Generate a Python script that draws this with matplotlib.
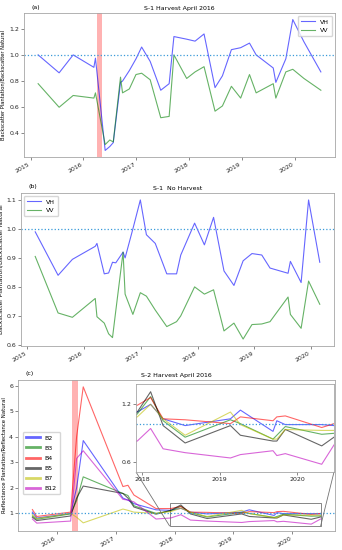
import matplotlib
matplotlib.use("Agg")
import matplotlib.pyplot as plt
import matplotlib.dates as mdates
import numpy as np
import pandas as pd
from mpl_toolkits.axes_grid1.inset_locator import mark_inset

# ---------------- data ----------------
dates_a = ["2015-02-22", "2015-07-17", "2015-10-22", "2016-03-13", "2016-03-24",
           "2016-05-30", "2016-07-01", "2016-07-25", "2016-09-13", "2016-09-27",
           "2016-11-13", "2016-12-29", "2017-02-06", "2017-04-06", "2017-06-18",
           "2017-08-15", "2017-09-17", "2017-12-14", "2018-02-10", "2018-04-13",
           "2018-06-28", "2018-08-18", "2018-10-19", "2018-12-22", "2019-02-21",
           "2019-04-08", "2019-08-04", "2019-08-22", "2019-10-30", "2019-12-17",
           "2020-03-03", "2020-06-28"]
vh_a = [1.0, 0.863, 1.0, 0.905, 0.975, 0.27, 0.30, 0.33, 0.79, 0.80,
        0.88, 0.97, 1.06, 0.95, 0.73, 0.78, 1.14, 1.12, 1.105, 1.16,
        0.75, 0.84, 1.04, 1.055, 1.09, 1.0, 0.90, 0.79, 0.97, 1.27,
        1.10, 0.87]
vv_a = [0.78, 0.60, 0.69, 0.67, 0.71, 0.315, 0.35, 0.335, 0.83, 0.71,
        0.74, 0.85, 0.86, 0.81, 0.52, 0.53, 1.0, 0.82, 0.87, 0.91,
        0.57, 0.61, 0.76, 0.67, 0.85, 0.71, 0.78, 0.67, 0.87, 0.89,
        0.82, 0.73]

dates_b = ["2015-02-22", "2015-07-19", "2015-10-19", "2016-03-14", "2016-03-25",
           "2016-05-11", "2016-06-08", "2016-07-03", "2016-07-24", "2016-09-09",
           "2016-09-22", "2016-11-11", "2016-12-29", "2017-02-06", "2017-04-04",
           "2017-06-17", "2017-08-19", "2017-09-15", "2017-12-13", "2018-02-14",
           "2018-04-14", "2018-06-20", "2018-08-23", "2018-10-21", "2018-12-17",
           "2019-02-18", "2019-04-12", "2019-08-06", "2019-08-21", "2019-10-29",
           "2019-12-16", "2020-02-26"]
vh_b = [0.99, 0.84, 0.895, 0.94, 0.95, 0.845, 0.848, 0.885, 0.883, 0.92,
        0.90, 1.0, 1.10, 0.98, 0.95, 0.845, 0.845, 0.91, 1.02, 0.945,
        1.04, 0.855, 0.805, 0.89, 0.915, 0.91, 0.865, 0.847, 0.888, 0.815,
        1.10, 0.885]
vv_b = [0.905, 0.71, 0.695, 0.76, 0.697, 0.675, 0.638, 0.625, 0.717, 0.92,
        0.775, 0.705, 0.78, 0.768, 0.72, 0.663, 0.68, 0.70, 0.80, 0.775,
        0.79, 0.648, 0.675, 0.62, 0.67, 0.672, 0.68, 0.765, 0.705, 0.657,
        0.82, 0.74]

dates_c = ["2015-08-04", "2015-08-31", "2016-03-28", "2016-05-04", "2016-06-14",
           "2017-02-15", "2017-03-18", "2017-04-24", "2017-09-08", "2017-12-08",
           "2018-02-09", "2018-04-09", "2018-07-22", "2019-02-21", "2019-04-09",
           "2019-09-10", "2019-09-28", "2019-11-07", "2020-04-27", "2020-06-24"]
bands = ["B2", "B3", "B4", "B5", "B7", "B12"]
b2 = [1.05, 0.82, 1.0, 2.0, 3.85, 1.6, 1.52, 1.38, 1.14, 1.12,
      1.2, 1.05, 0.98, 1.05, 1.14, 0.92, 1.03, 0.99, 0.99, 0.98]
b3 = [0.9, 0.77, 0.98, 1.5, 2.43, 1.78, 1.7, 1.3, 1.0, 1.1,
      1.28, 1.03, 0.86, 1.04, 1.0, 0.84, 0.88, 0.97, 0.89, 0.9]
b4 = [1.15, 0.88, 1.05, 4.0, 5.95, 2.05, 2.1, 1.72, 1.19, 1.19,
      1.27, 1.05, 1.04, 1.0, 1.07, 1.03, 1.07, 1.08, 0.96, 1.0]
b5 = [0.85, 0.72, 0.9, 1.6, 2.07, 1.78, 1.6, 1.25, 0.97, 1.12,
      1.33, 0.98, 0.8, 0.98, 0.88, 0.82, 0.82, 0.94, 0.77, 0.86]
b7 = [0.95, 0.8, 1.0, 0.85, 0.63, 1.17, 1.12, 1.05, 1.0, 1.07,
      1.2, 1.05, 0.88, 1.12, 0.99, 0.84, 0.84, 0.94, 0.93, 0.93]
b12 = [0.78, 0.62, 0.7, 3.15, 3.45, 1.55, 1.52, 1.45, 0.78, 0.82,
       0.95, 0.74, 0.70, 0.645, 0.68, 0.72, 0.67, 0.69, 0.58, 0.78]
band_values = [b2, b3, b4, b5, b7, b12]
band_colors = ["b", "g", "r", "k", "y", "m"]

harvest = ("2016-04-05", "2016-05-10")
zoom_x = ("2017-12-02", "2020-06-24")
zoom_y = (0.50, 1.41)

# ---------------- style ----------------
FS = 4.5
plt.rcParams.update({
    "font.family": "DejaVu Sans",
    "font.size": FS,
    "axes.edgecolor": "0.65",
    "axes.linewidth": 0.6,
    "xtick.color": "0.35",
    "ytick.color": "0.35",
    "xtick.labelcolor": "0.15",
    "ytick.labelcolor": "0.15",
    "xtick.major.size": 2,
    "ytick.major.size": 2,
    "xtick.major.width": 0.5,
    "ytick.major.width": 0.5,
    "xtick.major.pad": 1.5,
    "ytick.major.pad": 1.5,
    "legend.edgecolor": "0.8",
})

fig = plt.figure(figsize=(3.42, 5.5), dpi=100)
W, H = 342, 550


def add_ax(l, t, r, b):
    return fig.add_axes([l / W, 1 - b / H, (r - l) / W, (b - t) / H])


def date_axis(ax):
    ax.xaxis.set_major_locator(mdates.YearLocator())
    ax.xaxis.set_major_formatter(mdates.DateFormatter("%Y"))
    for lab in ax.get_xticklabels():
        lab.set_rotation(30)
        lab.set_ha("right")
        lab.set_fontsize(FS)
    ax.tick_params(labelsize=FS)


LW = 0.8
ALPHA = 0.6
ONE_COLOR = "#3a9ad9"

# ---- (a) ----
ax_a = add_ax(24, 13, 335, 157)
da = pd.to_datetime(dates_a)
ax_a.plot(da, vh_a, color="b", alpha=ALPHA, lw=LW, label="VH")
ax_a.plot(da, vv_a, color="g", alpha=ALPHA, lw=LW, label="VV")
ax_a.axhline(1.0, ls=":", color=ONE_COLOR, lw=0.9)
ax_a.axvspan(pd.Timestamp(harvest[0]), pd.Timestamp(harvest[1]), color="red", alpha=0.3, lw=0)
ax_a.set_yticks([0.4, 0.6, 0.8, 1.0, 1.2])
ax_a.set_title("S-1 Harvest April 2016", fontsize=FS, pad=2)
ax_a.text(0.025, 1.03, "(a)", transform=ax_a.transAxes, fontsize=FS)
ax_a.set_ylabel("Backscatter Plantation/Backscatter Natural", fontsize=3.7, labelpad=3)
ax_a.legend(loc="upper right", fontsize=FS, handlelength=2.2, borderpad=0.5, labelspacing=0.5)
date_axis(ax_a)

# ---- (b) ----
ax_b = add_ax(21, 193, 334, 346)
db = pd.to_datetime(dates_b)
ax_b.plot(db, vh_b, color="b", alpha=ALPHA, lw=LW, label="VH")
ax_b.plot(db, vv_b, color="g", alpha=ALPHA, lw=LW, label="VV")
ax_b.axhline(1.0, ls=":", color=ONE_COLOR, lw=0.9)
ax_b.set_yticks([0.6, 0.7, 0.8, 0.9, 1.0, 1.1])
ax_b.set_title("S-1  No Harvest", fontsize=FS, pad=2)
ax_b.text(0.025, 1.03, "(b)", transform=ax_b.transAxes, fontsize=FS)
ax_b.set_ylabel("Backscatter Plantation/Backscatter Natural", fontsize=4.3, labelpad=2)
ax_b.legend(loc="upper left", fontsize=FS, handlelength=2.2, borderpad=0.5, labelspacing=0.5)
date_axis(ax_b)

# ---- (c) ----
ax_c = add_ax(18, 380, 335, 531)
dc = pd.to_datetime(dates_c)
for name, vals, col in zip(bands, band_values, band_colors):
    ax_c.plot(dc, vals, color=col, alpha=ALPHA, lw=LW, label=name)
ax_c.axhline(1.0, ls=":", color=ONE_COLOR, lw=0.9)
ax_c.axvspan(pd.Timestamp(harvest[0]), pd.Timestamp(harvest[1]), color="red", alpha=0.3, lw=0)
ax_c.set_yticks([1, 2, 3, 4, 5, 6])
ax_c.set_title("S-2 Harvest April 2016", fontsize=FS, pad=2)
ax_c.text(0.025, 1.03, "(c)", transform=ax_c.transAxes, fontsize=FS)
ax_c.set_ylabel("Reflectance Plantation/Reflectance Natural", fontsize=3.9, labelpad=2)
leg = ax_c.legend(loc="center left", bbox_to_anchor=(0.005, 0.45), fontsize=FS,
                  handlelength=2.2, borderpad=0.5, labelspacing=0.75)
for h in leg.get_lines():
    h.set_linewidth(2.0)
date_axis(ax_c)

# inset
ax_in = add_ax(136, 384, 334, 472)
for name, vals, col in zip(bands, band_values, band_colors):
    ax_in.plot(dc, vals, color=col, alpha=ALPHA, lw=LW)
ax_in.axhline(1.0, ls=":", color=ONE_COLOR, lw=0.9)
ax_in.set_xlim(pd.Timestamp(zoom_x[0]), pd.Timestamp(zoom_x[1]))
ax_in.set_ylim(*zoom_y)
ax_in.set_yticks([0.6, 1.2])
ax_in.xaxis.set_major_locator(mdates.YearLocator())
ax_in.xaxis.set_major_formatter(mdates.DateFormatter("%Y"))
ax_in.tick_params(labelsize=FS)
mark_inset(ax_c, ax_in, loc1=3, loc2=4, fc="none", ec="0.45", lw=0.6)

fig.savefig("out.png", dpi=100)
